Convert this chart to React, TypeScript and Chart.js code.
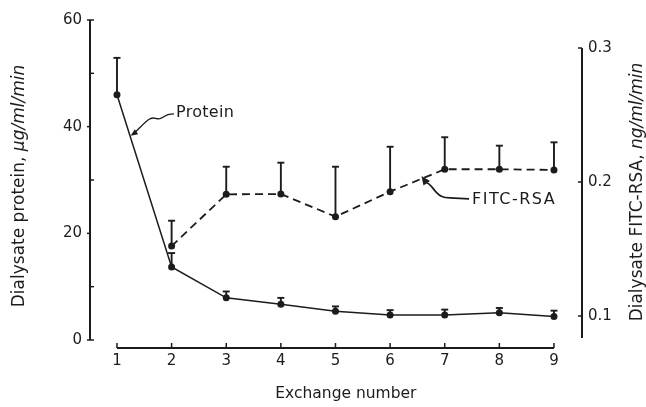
import React, { useEffect, useRef } from "react";
import { Chart, registerables } from "chart.js";

Chart.register(...registerables);

// ---- data ----
const exchanges = [1, 2, 3, 4, 5, 6, 7, 8, 9];
const proteinValues = [46, 13.7, 7.9, 6.7, 5.4, 4.7, 4.7, 5.1, 4.4];
const proteinUpper = [52.9, 16.3, 9.1, 7.9, 6.3, 5.6, 5.7, 6.0, 5.5];
const fitcExchanges = [2, 3, 4, 5, 6, 7, 8, 9];
const fitcValues = [0.1522, 0.1908, 0.191, 0.1741, 0.1928, 0.2095, 0.2095, 0.209];
const fitcUpper = [0.1711, 0.2114, 0.2144, 0.2114, 0.2263, 0.2334, 0.2271, 0.2296];
const leftTicks = [0, 20, 40, 60];
const leftMinorTicks = [10, 30, 50];
const rightTicks = [0.1, 0.2, 0.3];
const xTitle = "Exchange number";
const leftTitleMain = "Dialysate protein, ";
const leftTitleUnit = "\u00b5g/ml/min";
const rightTitleMain = "Dialysate FITC-RSA, ";
const rightTitleUnit = "ng/ml/min";
const proteinLabel = "Protein";
const fitcLabel = "FITC-RSA";
// annotation anchors (data units)
const proteinLabelPos = { x: 2.08, y: 42.6 };
const proteinArrowTip = { x: 1.25, y: 38.3 };
const fitcLabelPos = { x: 7.5, y: 0.1866 };
const fitcArrowTip = { x: 6.575, y: 0.2045 };
const xTitlePos = 5.19; // centre of the axis title, in exchange units

const INK = "#1c1c1c";
const FONT = "'DejaVu Sans', Verdana, sans-serif";

function arrowHead(ctx: CanvasRenderingContext2D, tx: number, ty: number, fx: number, fy: number, len = 8, w = 3.5) {
  const ang = Math.atan2(ty - fy, tx - fx);
  ctx.beginPath();
  ctx.moveTo(tx, ty);
  ctx.lineTo(tx - len * Math.cos(ang) + w * Math.sin(ang), ty - len * Math.sin(ang) - w * Math.cos(ang));
  ctx.lineTo(tx - len * Math.cos(ang) - w * Math.sin(ang), ty - len * Math.sin(ang) + w * Math.cos(ang));
  ctx.closePath();
  ctx.fill();
}

const decorPlugin = {
  id: "decor",
  afterDatasetsDraw(chart: any) {
    const { ctx, scales } = chart;
    const x = scales.x, y = scales.y, y1 = scales.y1;
    ctx.save();
    ctx.strokeStyle = INK;
    ctx.fillStyle = INK;
    ctx.lineCap = "butt";

    // left axis
    const lx = chart.chartArea.left;
    ctx.lineWidth = 2;
    ctx.beginPath();
    ctx.moveTo(lx, y.getPixelForValue(60));
    ctx.lineTo(lx, y.getPixelForValue(0));
    ctx.stroke();
    ctx.lineWidth = 1.5;
    leftTicks.forEach((v) => {
      const py = y.getPixelForValue(v);
      ctx.beginPath();
      ctx.moveTo(lx - 3, py);
      ctx.lineTo(lx + (v === 0 || v === 60 ? 4 : 0), py);
      ctx.stroke();
    });
    leftMinorTicks.forEach((v) => {
      const py = y.getPixelForValue(v);
      ctx.beginPath();
      ctx.moveTo(lx, py);
      ctx.lineTo(lx + 4, py);
      ctx.stroke();
    });

    // right axis
    const rx = chart.chartArea.right;
    ctx.lineWidth = 2;
    ctx.beginPath();
    ctx.moveTo(rx, y1.getPixelForValue(0.3));
    ctx.lineTo(rx, y1.getPixelForValue(0.0835));
    ctx.stroke();
    ctx.lineWidth = 1.5;
    rightTicks.forEach((v) => {
      const py = y1.getPixelForValue(v);
      ctx.beginPath();
      ctx.moveTo(rx - 4, py);
      ctx.lineTo(rx, py);
      ctx.stroke();
    });

    // x axis
    const by = chart.chartArea.bottom;
    ctx.lineWidth = 2;
    ctx.beginPath();
    ctx.moveTo(x.getPixelForValue(1), by);
    ctx.lineTo(x.getPixelForValue(9), by);
    ctx.stroke();
    ctx.lineWidth = 1.5;
    exchanges.forEach((v) => {
      const px = x.getPixelForValue(v);
      ctx.beginPath();
      ctx.moveTo(px, by);
      ctx.lineTo(px, by - 5);
      ctx.stroke();
    });

    // error bars
    const bar = (px: number, p0: number, p1: number) => {
      ctx.lineWidth = 1.9;
      ctx.beginPath();
      ctx.moveTo(px, p0);
      ctx.lineTo(px, p1);
      ctx.stroke();
      ctx.beginPath();
      ctx.moveTo(px - 3.5, p1);
      ctx.lineTo(px + 3.5, p1);
      ctx.stroke();
    };
    exchanges.forEach((e, i) => {
      bar(x.getPixelForValue(e), y.getPixelForValue(proteinValues[i]), y.getPixelForValue(proteinUpper[i]));
    });
    fitcExchanges.forEach((e, i) => {
      bar(x.getPixelForValue(e), y1.getPixelForValue(fitcValues[i]), y1.getPixelForValue(fitcUpper[i]));
    });

    // annotations
    ctx.textBaseline = "middle";
    ctx.textAlign = "left";
    ctx.font = `16px ${FONT}`;
    (ctx as any).letterSpacing = "0.3px";
    const plx = x.getPixelForValue(proteinLabelPos.x);
    const ply = y.getPixelForValue(proteinLabelPos.y);
    ctx.fillText(proteinLabel, plx, ply);
    const ptx = x.getPixelForValue(proteinArrowTip.x);
    const pty = y.getPixelForValue(proteinArrowTip.y);
    ctx.lineWidth = 1.3;
    ctx.beginPath();
    ctx.moveTo(plx - 2, ply + 1);
    ctx.lineTo(plx - 7, ply + 1.5);
    ctx.bezierCurveTo(plx - 11, ply + 2, plx - 13, ply + 6, plx - 17, ply + 6);
    ctx.bezierCurveTo(plx - 21, ply + 6, plx - 22, ply + 4, plx - 26, ply + 6);
    ctx.bezierCurveTo(plx - 31, ply + 9, plx - 36, ply + 15, ptx + 4, pty - 3);
    ctx.stroke();
    arrowHead(ctx, ptx, pty, ptx + 6, pty - 4, 7, 3);

    ctx.font = `16px ${FONT}`;
    (ctx as any).letterSpacing = "1.5px";
    const flx = x.getPixelForValue(fitcLabelPos.x);
    const fly = y1.getPixelForValue(fitcLabelPos.y);
    ctx.fillText(fitcLabel, flx, fly);
    (ctx as any).letterSpacing = "0px";
    const ftx = x.getPixelForValue(fitcArrowTip.x);
    const fty = y1.getPixelForValue(fitcArrowTip.y);
    ctx.lineWidth = 1.7;
    ctx.beginPath();
    ctx.moveTo(flx - 3, fly - 1);
    ctx.lineTo(flx - 22, fly - 2);
    ctx.bezierCurveTo(flx - 31, fly - 2, flx - 33, fly - 5, flx - 37, fly - 9);
    ctx.bezierCurveTo(flx - 41, fly - 14, flx - 43, fly - 17, ftx + 5, fty + 7);
    ctx.stroke();
    arrowHead(ctx, ftx, fty, ftx + 5, fty + 7, 9, 4);

    // x title
    ctx.font = `15.5px ${FONT}`;
    ctx.textAlign = "center";
    ctx.textBaseline = "middle";
    ctx.fillText(xTitle, x.getPixelForValue(xTitlePos), 394);

    // y titles (mixed upright / italic)
    const drawTitle = (cx: number, cy: number, main: string, unit: string) => {
      ctx.save();
      ctx.translate(cx, cy);
      ctx.rotate(-Math.PI / 2);
      ctx.textAlign = "left";
      ctx.textBaseline = "middle";
      ctx.font = `17px ${FONT}`;
      const w1 = ctx.measureText(main).width;
      ctx.font = `italic 17px ${FONT}`;
      const w2 = ctx.measureText(unit).width;
      const start = -(w1 + w2) / 2;
      ctx.font = `17px ${FONT}`;
      ctx.fillText(main, start, 0);
      ctx.font = `italic 17px ${FONT}`;
      ctx.fillText(unit, start + w1, 0);
      ctx.restore();
    };
    drawTitle(20, 186, leftTitleMain, leftTitleUnit);
    drawTitle(638, 192, rightTitleMain, rightTitleUnit);

    ctx.restore();
  },
};

export default function App() {
  const ref = useRef<HTMLCanvasElement | null>(null);
  useEffect(() => {
    if (!ref.current) return;
    const chart = new Chart(ref.current, {
      type: "line",
      data: {
        datasets: [
          {
            label: "Protein",
            data: exchanges.map((e, i) => ({ x: e, y: proteinValues[i] })),
            yAxisID: "y",
            borderColor: INK,
            backgroundColor: INK,
            borderWidth: 1.5,
            pointRadius: 3.5,
            pointBackgroundColor: INK,
            pointBorderWidth: 0,
            tension: 0,
          },
          {
            label: "FITC-RSA",
            data: fitcExchanges.map((e, i) => ({ x: e, y: fitcValues[i] })),
            yAxisID: "y1",
            borderColor: INK,
            backgroundColor: INK,
            borderWidth: 1.8,
            borderDash: [8, 5],
            pointRadius: 3.5,
            pointBackgroundColor: INK,
            pointBorderWidth: 0,
            tension: 0,
          },
        ],
      },
      options: {
        animation: false,
        responsive: true,
        maintainAspectRatio: false,
        layout: { padding: { top: 20, left: 0, right: 0, bottom: 0 } },
        plugins: { legend: { display: false }, tooltip: { enabled: false } },
        scales: {
          x: {
            type: "linear",
            position: "bottom",
            min: 0.506,
            max: 9.513,
            grid: { display: false, drawTicks: false },
            border: { display: false },
            afterBuildTicks: (s: any) => {
              s.ticks = exchanges.map((v) => ({ value: v }));
            },
            afterFit: (s: any) => {
              s.height = 59;
            },
            ticks: {
              color: INK,
              font: { family: FONT, size: 15 },
              padding: 4,
              maxRotation: 0,
              autoSkip: false,
              callback: (v: any) => String(v),
            },
          },
          y: {
            type: "linear",
            position: "left",
            min: -1.5,
            max: 60,
            grid: { display: false, drawTicks: false },
            border: { display: false },
            afterBuildTicks: (s: any) => {
              s.ticks = leftTicks.map((v) => ({ value: v }));
            },
            afterFit: (s: any) => {
              s.width = 90;
            },
            ticks: {
              color: INK,
              font: { family: FONT, size: 15 },
              padding: 8,
              callback: (v: any) => String(v),
            },
          },
          y1: {
            type: "linear",
            position: "right",
            min: 0.0761,
            max: 0.3209,
            grid: { display: false, drawTicks: false },
            border: { display: false },
            afterBuildTicks: (s: any) => {
              s.ticks = rightTicks.map((v) => ({ value: v }));
            },
            afterFit: (s: any) => {
              s.width = 64;
            },
            ticks: {
              color: INK,
              font: { family: FONT, size: 15 },
              padding: 6,
              callback: (v: any) => Number(v).toFixed(1),
            },
          },
        },
      },
      plugins: [decorPlugin],
    });
    return () => chart.destroy();
  }, []);
  return (
    <div style={{ position: "fixed", left: 0, top: 0, width: 646, height: 407, background: "#fff" }}>
      <canvas ref={ref} />
    </div>
  );
}
